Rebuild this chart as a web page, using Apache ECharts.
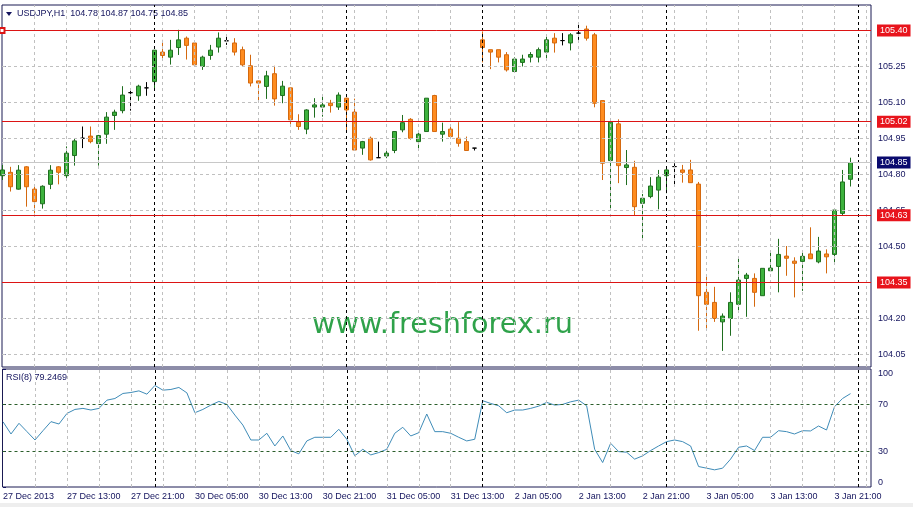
<!DOCTYPE html>
<html><head><meta charset="utf-8">
<script src="https://cdn.jsdelivr.net/npm/echarts@6/dist/echarts.min.js"></script>
<style>html,body{margin:0;padding:0;background:#fff}#c{width:913px;height:507px}</style>
</head><body><div id="c"></div>
<script>
// ---- data ----
const sessions = [['27 Dec',5,23],['30 Dec',0,23],['31 Dec',0,16],['2 Jan',1,23],['3 Jan',0,23]];
const firstLabel = '27 Dec 2013';
const symbolName = 'USDJPY,H1';
const openP = [104.795,104.809,104.739,104.832,104.739,104.678,104.759,104.832,104.795,104.879,
104.951,104.96,104.929,104.968,105.046,105.066,105.141,105.128,105.161,105.187,
105.31,105.289,105.329,105.368,105.348,105.25,105.296,105.331,105.357,105.348,
105.32,105.253,105.19,105.167,105.22,105.129,105.161,105.018,104.989,105.081,
105.081,105.097,105.081,105.118,105.06,104.91,104.951,104.87,104.877,104.9,
104.986,105.03,104.937,104.979,105.129,104.968,104.989,104.951,104.937,104.91,
105.361,105.32,105.32,105.299,105.229,105.267,105.289,105.289,105.31,105.368,
105.358,105.348,105.389,105.406,105.382,105.108,104.858,105.011,104.829,104.83,
104.68,104.708,104.735,104.795,104.833,104.819,104.819,104.76,104.309,104.267,
104.186,104.2,104.259,104.367,104.367,104.295,104.399,104.417,104.46,104.439,
104.438,104.469,104.436,104.469,104.467,104.638,104.78];
const highP = [104.84,104.832,104.839,104.835,104.759,104.755,104.839,104.835,104.917,104.951,
105.0,105.0,104.965,105.06,105.07,105.168,105.153,105.174,105.185,105.318,
105.361,105.361,105.403,105.375,105.348,105.295,105.34,105.392,105.382,105.368,
105.333,105.299,105.19,105.232,105.253,105.19,105.161,105.051,105.072,105.118,
105.131,105.111,105.142,105.12,105.116,104.94,104.958,104.937,104.902,104.979,
105.048,105.035,104.979,105.118,105.132,105.016,105.003,105.018,104.958,104.91,
105.396,105.32,105.32,105.31,105.288,105.299,105.31,105.329,105.382,105.389,
105.389,105.389,105.431,105.42,105.39,105.108,105.018,105.03,104.902,104.857,
104.719,104.789,104.819,104.833,104.847,104.84,104.861,104.769,104.381,104.332,
104.221,104.309,104.453,104.39,104.388,104.409,104.481,104.532,104.502,104.455,
104.481,104.58,104.54,104.488,104.652,104.819,104.87];
const lowP = [104.777,104.729,104.737,104.666,104.638,104.658,104.739,104.759,104.777,104.837,
104.91,104.93,104.837,104.928,104.986,105.055,105.066,105.107,105.128,105.16,
105.278,105.258,105.298,105.279,105.25,105.236,105.278,105.308,105.34,105.296,
105.25,105.167,105.107,105.115,105.087,105.097,105.007,104.986,104.968,105.037,
105.041,105.058,105.069,104.98,104.9,104.882,104.858,104.87,104.868,104.889,
104.976,104.945,104.907,104.979,104.979,104.937,104.948,104.916,104.898,104.9,
105.267,105.239,105.267,105.229,105.229,105.25,105.267,105.267,105.278,105.308,
105.338,105.317,105.361,105.358,105.08,104.777,104.655,104.764,104.756,104.631,
104.534,104.701,104.655,104.722,104.749,104.766,104.766,104.149,104.149,104.186,
104.065,104.128,104.235,104.207,104.249,104.295,104.399,104.309,104.378,104.288,
104.315,104.449,104.43,104.388,104.427,104.631,104.75];
const closeP = [104.819,104.749,104.818,104.749,104.687,104.751,104.818,104.809,104.889,104.94,
104.951,104.937,104.962,105.039,105.06,105.131,105.141,105.168,105.161,105.318,
105.296,105.318,105.361,105.338,105.257,105.289,105.318,105.368,105.357,105.31,
105.257,105.181,105.181,105.211,105.115,105.168,105.028,105.0,105.069,105.09,
105.09,105.087,105.131,105.069,104.902,104.937,104.861,104.87,104.889,104.979,
105.016,104.951,104.968,105.118,104.979,104.979,104.958,104.93,104.9,104.91,
105.329,105.31,105.289,105.236,105.281,105.281,105.3,105.32,105.361,105.348,
105.358,105.382,105.389,105.368,105.097,104.847,105.018,104.837,104.84,104.666,
104.701,104.752,104.789,104.819,104.833,104.809,104.766,104.295,104.259,104.2,
104.21,104.267,104.36,104.381,104.309,104.409,104.41,104.467,104.451,104.43,
104.459,104.449,104.481,104.457,104.652,104.769,104.85];
const rsiPeriod = 8;
const rsiValues = [55.3,44.9,54,46.9,39.8,47.7,55.4,53.4,62.4,65.8,
66.7,65.3,66.7,73.7,75.1,79.4,80.2,81.6,78.8,86.2,
82.2,82.8,84.5,79.9,63,65.8,69.5,72.6,70.1,61,
52.5,39.8,39.8,45.5,34.7,43.2,30.8,28,39,42.1,
42.1,42.1,48.9,40.4,26.3,31.9,27.1,29.1,31.9,45.5,
50.6,43.2,46,61.9,46.9,46.9,45.5,42.1,39,40.4,
73.2,70.9,68.9,63,65.3,65.3,66.7,68.6,71.8,69.5,
70.1,72.3,73.7,68.9,31.9,20.6,37,29.9,29.4,23.5,
26.3,30.8,34.7,38.4,39.8,38.4,34.7,17.2,15.8,14.4,
15.8,23.5,33.6,34.7,30.8,42.1,42.1,47.7,46.9,44.9,
47.7,47.5,51.7,48.3,68.1,75.1,79.2469];
const priceTicks = [104.05,104.20,104.35,104.50,104.65,104.80,104.95,105.10,105.25,105.40];
const rsiTicks = [0,30,70,100];
const rsiLevels = [70,30];
const levelLines = [105.40,105.02,104.63,104.35];
const bidPrice = 104.85;
const timeLabelStep = 8;
const gridStep = 4;
const watermark = 'www.freshforex.ru';

// ---- build ----
const cats = [];
const daySeparators = [];
sessions.forEach(function (s, k) {
  if (k > 0) daySeparators.push(cats.length);
  for (let h = s[1]; h <= s[2]; h++) cats.push(s[0] + ' ' + String(h).padStart(2, '0') + ':00');
});
daySeparators.push(cats.length);
cats[0] = firstLabel;
const labelIdx = [];
for (let i = 0; i < cats.length; i += timeLabelStep) labelIdx.push(i);
const vGridIdx = [];
for (let i = gridStep; i < cats.length + 2; i += gridStep) vGridIdx.push(i);
const candleData = cats.map(function (c, i) { return [i, openP[i], closeP[i], lowP[i], highP[i]]; });
const rsiData = cats.map(function (c, i) { return [i, rsiValues[i]]; });
const last = cats.length - 1;

// ---- layout (pixel scale choices) ----
const PX_PER_BAR = 8;
const X_MIN = -1 / 16;
const X_MAX = X_MIN + 869 / PX_PER_BAR;
const PX_PER_PRICE = 240;
const Y_MIN = priceTicks[0] - 12.5 / PX_PER_PRICE;
const Y_MAX = Y_MIN + 362 / PX_PER_PRICE;
const PX_PER_RSI = 1.175;
const R_MIN = -0.25 / PX_PER_RSI;
const R_MAX = R_MIN + 118 / PX_PER_RSI;

const NAVY = '#14145e';
const FONT = '"Liberation Sans", Arial, sans-serif';
const GRIDC = '#c0c0c0';
const LEVELC = '#dc1414';

function vLine(v, color) { return { xAxis: v, lineStyle: { color: color, type: [3, 3], width: 1 }, label: { show: false } }; }
function hLine(v, color, type) { return { yAxis: v, lineStyle: { color: color, type: type, width: 1 }, label: { show: false } }; }

const vGridMain = vGridIdx.map(function (v) { return vLine(v, GRIDC); });
const hGridMain = priceTicks.map(function (v) { return hLine(v, GRIDC, [3, 3]); });
const sepLines = daySeparators.map(function (v) { return vLine(v, '#000000'); });
const levelMarks = levelLines.map(function (v, k) {
  const item = {
    yAxis: v,
    lineStyle: { color: LEVELC, type: 'solid', width: 1 },
    label: { show: true, position: 'end', distance: 6, formatter: v.toFixed(2), color: '#fff',
      backgroundColor: '#e8141c', padding: [2, 3, 1, 3], fontSize: 9, fontFamily: FONT }
  };
  if (k === 0) { item.symbol = 'emptyRect'; item.symbolSize = 5; }
  return item;
});
const bidMark = {
  yAxis: bidPrice, lineStyle: { color: '#c8c8c8', type: 'solid', width: 1 },
  label: { show: true, position: 'end', distance: 6, formatter: bidPrice.toFixed(2), color: '#fff',
    backgroundColor: '#0a0a6e', padding: [2, 3, 1, 3], fontSize: 9, fontFamily: FONT }
};
const rsiLevelMarks = rsiLevels.map(function (v) { return hLine(v, '#2b5e2b', [3, 3]); });

const chart = echarts.init(document.getElementById('c'), null, { renderer: 'canvas' });
chart.setOption({
  animation: false,
  backgroundColor: '#ffffff',
  textStyle: { fontFamily: FONT },
  grid: [
    { left: 2, top: 5, width: 869, height: 362, show: true, borderColor: '#1a1a52', borderWidth: 1, backgroundColor: 'transparent' },
    { left: 2, top: 369, width: 869, height: 118, show: true, borderColor: '#1a1a52', borderWidth: 1, backgroundColor: 'transparent' }
  ],
  xAxis: [
    { gridIndex: 0, type: 'value', min: X_MIN, max: X_MAX,
      axisLine: { show: false }, axisTick: { show: false }, axisLabel: { show: false }, splitLine: { show: false } },
    { gridIndex: 1, type: 'value', min: X_MIN, max: X_MAX,
      axisLine: { show: false }, axisTick: { show: false },
      axisLabel: { show: true, customValues: labelIdx, formatter: function (v) { return cats[Math.round(v)] || ''; },
        align: 'left', color: NAVY, fontSize: 9, margin: 5, fontFamily: FONT },
      splitLine: { show: false } }
  ],
  yAxis: [
    { gridIndex: 0, type: 'value', position: 'right', min: Y_MIN, max: Y_MAX,
      axisLine: { show: false },
      axisTick: { show: true, customValues: priceTicks, length: 3, lineStyle: { color: NAVY } },
      axisLabel: { show: true, customValues: priceTicks, formatter: function (v) { return v.toFixed(2); },
        color: NAVY, fontSize: 9, margin: 7, fontFamily: FONT },
      splitLine: { show: false } },
    { gridIndex: 1, type: 'value', position: 'right', min: R_MIN, max: R_MAX,
      axisLine: { show: false },
      axisTick: { show: true, customValues: rsiTicks, length: 3, lineStyle: { color: NAVY } },
      axisLabel: { show: true, customValues: rsiTicks, color: NAVY, fontSize: 9, margin: 7, fontFamily: FONT,
        verticalAlignMinLabel: 'bottom', verticalAlignMaxLabel: 'top' },
      splitLine: { show: false } }
  ],
  series: [
    { type: 'line', xAxisIndex: 0, yAxisIndex: 0, data: [], silent: true, z: 1,
      markLine: { silent: true, symbol: 'none', animation: false, data: vGridMain.concat(hGridMain, sepLines) } },
    { type: 'line', xAxisIndex: 1, yAxisIndex: 1, data: [], silent: true, z: 1,
      markLine: { silent: true, symbol: 'none', animation: false, data: vGridMain.concat(sepLines, rsiLevelMarks) } },
    { type: 'line', xAxisIndex: 0, yAxisIndex: 0, data: [], silent: true, z: 2,
      markLine: { silent: true, symbol: 'none', animation: false, data: levelMarks.concat([bidMark]) } },
    { type: 'candlestick', xAxisIndex: 0, yAxisIndex: 0, data: candleData, barWidth: 5, z: 3,
      itemStyle: { color: '#3db23d', color0: '#ff8c1f', borderColor: '#1f6e1f', borderColor0: '#d4690f',
        borderColorDoji: '#000000', borderWidth: 1 } },
    { type: 'line', xAxisIndex: 1, yAxisIndex: 1, data: rsiData, showSymbol: false, symbol: 'none', z: 3,
      lineStyle: { color: '#3f8cb8', width: 1 } }
  ],
  graphic: [
    { type: 'rect', left: 0, top: 503, shape: { width: 913, height: 4 }, style: { fill: '#eeeeee' }, silent: true },
    { type: 'polygon', shape: { points: [[6, 12], [12, 12], [9, 16]] }, style: { fill: NAVY }, silent: true },
    { type: 'text', x: 17, y: 14, style: { text: symbolName + '  ' + [openP[last], highP[last], lowP[last], closeP[last]].map(function (v) { return v.toFixed(2); }).join(' '),
      fill: NAVY, font: '9px ' + FONT, verticalAlign: 'middle' }, silent: true },
    { type: 'text', x: 6, y: 378, style: { text: 'RSI(' + rsiPeriod + ') ' + rsiValues[last], fill: NAVY, font: '9px ' + FONT, verticalAlign: 'middle' }, silent: true },
    { type: 'text', x: 312, y: 326, style: { text: watermark, fill: '#2fa24a', font: '28.7px "DejaVu Sans"', verticalAlign: 'middle' }, silent: true }
  ]
});
</script></body></html>
